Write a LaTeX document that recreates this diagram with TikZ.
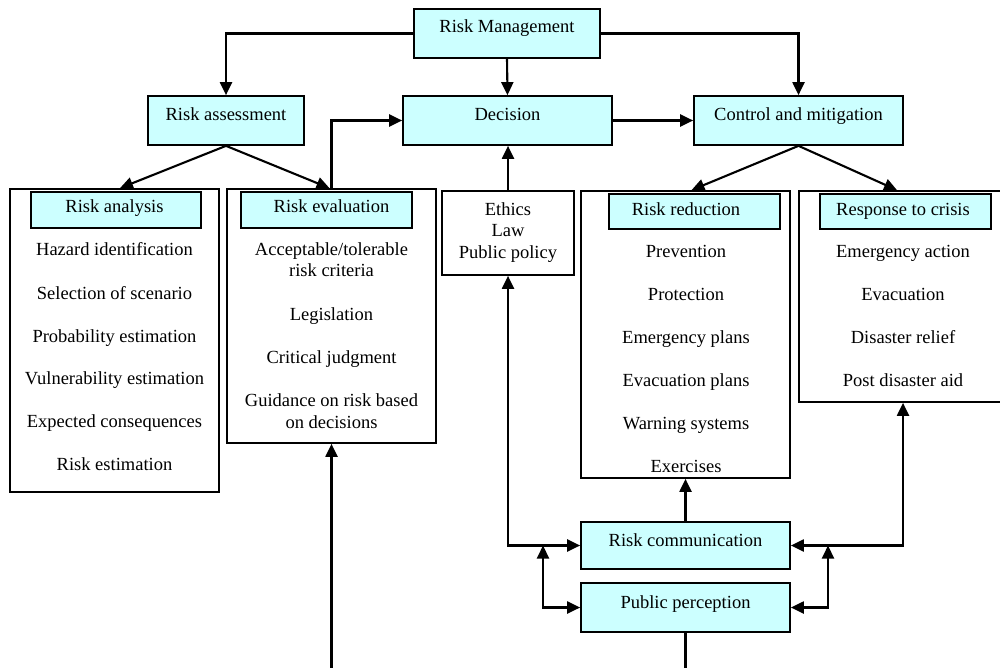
\documentclass[tikz,border=0pt]{standalone}
\usepackage{fontspec}
\setmainfont{Liberation Serif}
\usetikzlibrary{arrows.meta,fit,calc}
\definecolor{boxcyan}{HTML}{CCFFFF}
\begin{document}
\begin{tikzpicture}[x=0.5pt,y=-0.5pt,
  frame/.style={draw=black, line width=0.85pt, inner sep=0pt},
  bluebox/.style={frame, fill=boxcyan},
  whitebox/.style={frame, fill=white},
  lbl/.style={anchor=base, inner sep=0pt, font=\fontsize{9.25}{11}\selectfont},
  conn/.style={line width=1.05pt, -{Triangle[length=6.5pt,width=6pt]}},
  biconn/.style={line width=1.05pt, {Triangle[length=6.5pt,width=6pt]}-{Triangle[length=6.5pt,width=6pt]}},
  plainline/.style={line width=1.05pt}]
\useasboundingbox (0,0) rectangle (1000,668);
\clip (0,0) rectangle (1000,668);

% top level boxes
\node[bluebox, fit={(414,9) (600,58)}] (rm) {};
\node[bluebox, fit={(148,96) (304,145)}] (ra) {};
\node[bluebox, fit={(403,96) (612,145)}] (dec) {};
\node[bluebox, fit={(694,96) (903,145)}] (cm) {};

\node[lbl] (trm) at (507,33) {Risk Management};
\node[lbl] (tra) at (226,120.5) {Risk assessment};
\node[lbl] (tdec) at (507.5,120.5) {Decision};
\node[lbl] (tcm) at (798.5,120.5) {Control and mitigation};

% outer white boxes
\node[whitebox, fit={(10,189) (219,492)}] (ran) {};
\node[whitebox, fit={(227,189) (436,443)}] (rev) {};
\node[whitebox, fit={(442,191) (574,275)}] (eth) {};
\node[whitebox, fit={(581,191) (790,478)}] (rr) {};
\node[whitebox, fit={(799,191) (1007,402)}] (resp) {};

% headers
\node[bluebox, fit={(31,192) (201,228)}] (ranh) {};
\node[bluebox, fit={(241,192) (412,228)}] (revh) {};
\node[bluebox, fit={(609,194) (780,229)}] (rrh) {};
\node[bluebox, fit={(820,194) (991,229)}] (resph) {};

% Risk analysis texts
\node[lbl] (a0) at (114.5,213) {Risk analysis};
\node[lbl] (a1) at (114.5,256) {Hazard identification};
\node[lbl] (a2) at (114.5,299) {Selection of scenario};
\node[lbl] (a3) at (114.5,342) {Probability estimation};
\node[lbl] (a4) at (114.5,384) {Vulnerability estimation};
\node[lbl] (a5) at (114.5,427) {Expected consequences};
\node[lbl] (a6) at (114.5,470) {Risk estimation};

% Risk evaluation texts
\node[lbl] (e0) at (331.5,213) {Risk evaluation};
\node[lbl] (e1) at (331.5,256) {Acceptable/tolerable};
\node[lbl] (e1b) at (331.5,277) {risk criteria};
\node[lbl] (e2) at (331.5,320) {Legislation};
\node[lbl] (e3) at (331.5,363) {Critical judgment};
\node[lbl] (e4) at (331.5,406) {Guidance on risk based};
\node[lbl] (e4b) at (331.5,428) {on decisions};

% Ethics texts
\node[lbl] (h1) at (508,215) {Ethics};
\node[lbl] (h2) at (508,236) {Law};
\node[lbl] (h3) at (508,258) {Public policy};

% Risk reduction texts
\node[lbl] (r0) at (686,215) {Risk reduction};
\node[lbl] (r1) at (686,257) {Prevention};
\node[lbl] (r2) at (686,300) {Protection};
\node[lbl] (r3) at (686,343) {Emergency plans};
\node[lbl] (r4) at (686,386) {Evacuation plans};
\node[lbl] (r5) at (686,429) {Warning systems};
\node[lbl] (r6) at (686,472) {Exercises};

% Response texts
\node[lbl] (s0) at (903,215) {Response to crisis};
\node[lbl] (s1) at (903,257) {Emergency action};
\node[lbl] (s2) at (903,300) {Evacuation};
\node[lbl] (s3) at (903,343) {Disaster relief};
\node[lbl] (s4) at (903,386) {Post disaster aid};

% bottom boxes
\node[bluebox, fit={(581,522) (790,569)}] (rc) {};
\node[bluebox, fit={(581,583) (790,632)}] (pp) {};
\node[lbl] (trc) at (685.5,546) {Risk communication};
\node[lbl] (tpp) at (685.5,608) {Public perception};

% connectors
\draw[conn] (rm.west) -| (ra.north);
\draw[conn] (rm.east) -| (cm.north);
\draw[conn] (rm.south) -- (dec.north);
\draw[conn] (dec.east) -- (cm.west);
\draw[conn] (rev.north) |- (dec.west);
\draw[conn] (ra.south) -- ([xshift=2.75pt]ran.north);
\draw[conn] (ra.south) -- ([xshift=-1pt]rev.north);
\draw[conn] (cm.south) -- ([xshift=3pt]rr.north);
\draw[conn] (cm.south) -- ([xshift=-3pt]resp.north);
\draw[conn] (eth.north) -- (eth.north |- dec.south);
\draw[biconn] (eth.south) |- (rc.west);
\draw[biconn] (resp.south) |- (rc.east);
\coordinate (jl) at (543,545.5);
\coordinate (jr) at (828,545.5);
\draw[biconn] (jl) |- (pp.west);
\draw[biconn] (jr) |- (pp.east);
\draw[conn] (rc.north) -- (rr.south);
\coordinate (bl) at (331.5,672);
\coordinate (br) at (685.5,672);
\draw[plainline] (pp.south) -- (br);
\draw[conn] (bl) -- (rev.south);
\end{tikzpicture}
\end{document}
